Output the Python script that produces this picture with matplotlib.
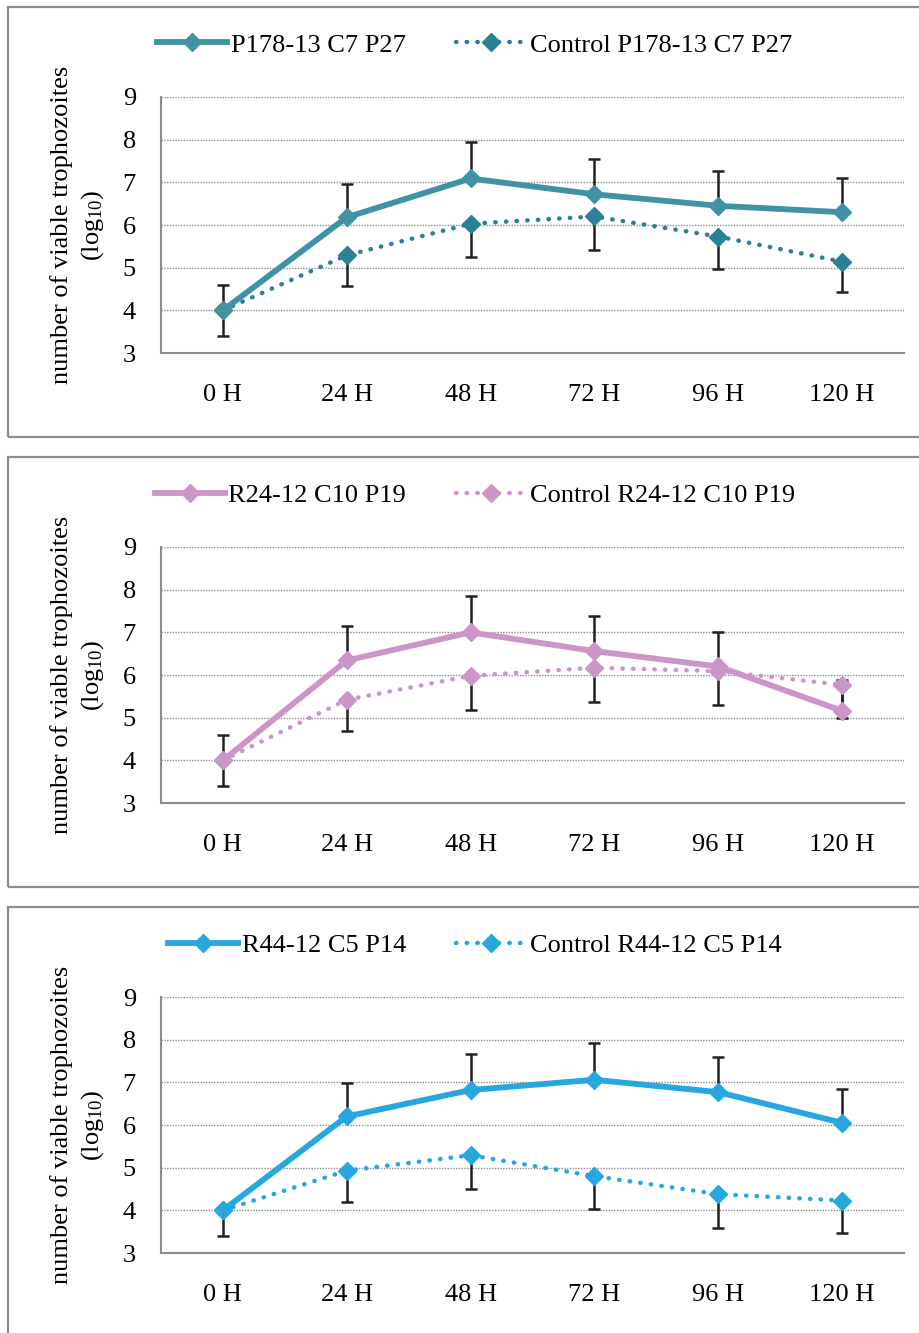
import matplotlib
matplotlib.use("Agg")
import matplotlib.pyplot as plt
from matplotlib.patches import Rectangle
import numpy as np

plt.rcParams['font.family'] = ['Liberation Serif', 'DejaVu Serif']
plt.rcParams['mathtext.fontset'] = 'custom'
plt.rcParams['mathtext.rm'] = 'Liberation Serif'
plt.rcParams['mathtext.it'] = 'Liberation Serif:italic'

categories = ["0 H", "24 H", "48 H", "72 H", "96 H", "120 H"]
yticks = [3, 4, 5, 6, 7, 8, 9]

# Panel 1
p1_name = "P178-13 C7 P27"
p1_vals = [4.0, 6.18, 7.09, 6.72, 6.45, 6.30]
p1_err_up = [0.6, 0.79, 0.86, 0.83, 0.82, 0.79]
p1_ctrl_name = "Control P178-13 C7 P27"
p1_ctrl = [4.0, 5.29, 6.03, 6.20, 5.73, 5.14]
p1_ctrl_err_dn = [0.6, 0.72, 0.78, 0.79, 0.75, 0.71]

# Panel 2
p2_name = "R24-12 C10 P19"
p2_vals = [4.0, 6.34, 7.00, 6.56, 6.20, 5.16]
p2_err_up = [0.6, 0.80, 0.86, 0.83, 0.80, 0.72]
p2_ctrl_name = "Control R24-12 C10 P19"
p2_ctrl = [4.0, 5.42, 5.98, 6.17, 6.09, 5.77]
p2_ctrl_err_dn = [0.6, 0.74, 0.79, 0.80, 0.79, 0.77]

# Panel 3
p3_name = "R44-12 C5 P14"
p3_vals = [4.0, 6.20, 6.82, 7.06, 6.77, 6.05]
p3_err_up = [0.0, 0.78, 0.84, 0.86, 0.82, 0.79]
p3_ctrl_name = "Control R44-12 C5 P14"
p3_ctrl = [4.0, 4.93, 5.29, 4.80, 4.38, 4.23]
p3_ctrl_err_dn = [0.6, 0.73, 0.78, 0.78, 0.80, 0.75]

panels = [
    (p1_name, p1_vals, p1_err_up, p1_ctrl_name, p1_ctrl, p1_ctrl_err_dn, "#3F93A4", "#2B8096"),
    (p2_name, p2_vals, p2_err_up, p2_ctrl_name, p2_ctrl, p2_ctrl_err_dn, "#CB96C7", "#CB96C7"),
    (p3_name, p3_vals, p3_err_up, p3_ctrl_name, p3_ctrl, p3_ctrl_err_dn, "#27A7DF", "#27A7DF"),
]

W, H = 920, 1333
fig = plt.figure(figsize=(W / 100, H / 100), dpi=100)

FS = 19
grey = "#8C8C8C"
x = np.arange(len(categories))

for i, (nm, vals, eup, cnm, cvals, cdn, col, ccol) in enumerate(panels):
    off = 450 * i
    top_px = 97 + off
    bot_px = 353 + off
    ax = fig.add_axes([161 / W, 1 - bot_px / H, (904 - 161) / W, (bot_px - top_px) / H])

    # panel frame
    fig.patches.append(Rectangle((8 / W, 1 - (437 + off) / H), 1.2, (430) / H,
                                 transform=fig.transFigure, fill=False,
                                 edgecolor=grey, linewidth=1.6, zorder=0))

    ax.set_xlim(-0.5, len(categories) - 0.5)
    ax.set_ylim(3, 9)
    ax.set_yticks(yticks)
    ax.set_xticks(x)
    ax.set_xticklabels(categories)
    for yy in yticks[1:]:
        ax.axhline(yy, color="#8E8E8E", linestyle=(0, (1, 1)), linewidth=1.0, zorder=1)

    ax.errorbar(x, vals, yerr=[np.zeros(len(vals)), eup], fmt='none', ecolor="#231F20",
                elinewidth=1.8, capsize=4.3, capthick=1.8, zorder=2)
    ax.errorbar(x, cvals, yerr=[cdn, np.zeros(len(cvals))], fmt='none', ecolor="#231F20",
                elinewidth=1.8, capsize=4.3, capthick=1.8, zorder=2)

    l2, = ax.plot(x, cvals, color=ccol, linestyle=(0, (0.1, 2.3)), linewidth=3.2,
                  dash_capstyle='round', marker='D', markersize=9, zorder=3, label=cnm)
    l1, = ax.plot(x, vals, color=col, linewidth=4.2, marker='D', markersize=9,
                  zorder=3, label=nm)

    for s in ['top', 'right']:
        ax.spines[s].set_visible(False)
    for s in ['left', 'bottom']:
        ax.spines[s].set_color(grey)
        ax.spines[s].set_linewidth(1.5)
    ax.tick_params(axis='both', length=0, labelsize=FS)
    ax.tick_params(axis='y', pad=18)
    ax.tick_params(axis='x', pad=22)

    ax.set_ylabel("number of viable trophozoites\n(log$_{10}$)", fontsize=FS,
                  linespacing=1.3, labelpad=12)

    fig.legend(handles=[l1, l2], loc='center', bbox_to_anchor=(475 / W, 1 - (45 + off) / H),
               ncol=2, frameon=False, fontsize=FS, handlelength=2.65,
               handletextpad=0.15, columnspacing=1.9)

fig.savefig("out.png", dpi=100)
